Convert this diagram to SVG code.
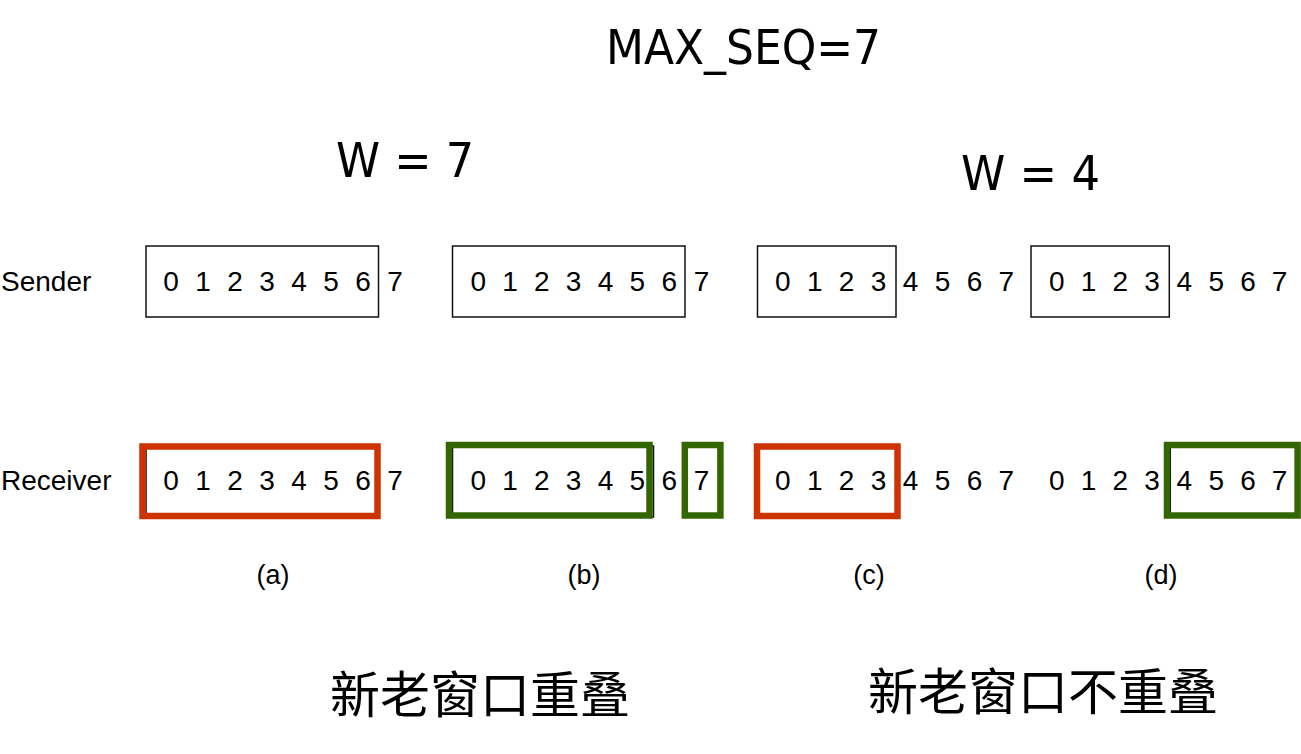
<svg xmlns="http://www.w3.org/2000/svg" width="1301" height="754" viewBox="0 0 1301 754">
<style>
.bg{fill:#ffffff}
.title{font-family:"DejaVu Sans","Liberation Sans",sans-serif;font-stretch:condensed;font-size:48px;fill:#000}
.lbl{font-family:"Liberation Sans",Arial,sans-serif;font-size:28px;fill:#000}
.dig{font-family:"Liberation Sans",Arial,sans-serif;font-size:28px;fill:#000;text-anchor:middle}
.cap{font-family:"Liberation Sans",Arial,sans-serif;font-size:27px;fill:#000;text-anchor:middle}
.cjk{font-family:"Noto Sans CJK SC","Noto Sans CJK TC",sans-serif;font-size:50px;fill:#000}
.box{fill:none;stroke:#111;stroke-width:1.5}
.red{fill:none;stroke:#CC3300;stroke-width:6.5}
.green{fill:none;stroke:#336600;stroke-width:6.5}
</style>
<rect class="bg" x="0" y="0" width="1301" height="754"/>

<g id="titles">
<text class="title" x="606" y="63.5" textLength="275" lengthAdjust="spacingAndGlyphs">MAX_SEQ=7</text>
<text class="title" x="336" y="177" textLength="138" lengthAdjust="spacingAndGlyphs">W = 7</text>
<text class="title" x="961" y="190" textLength="139" lengthAdjust="spacingAndGlyphs">W = 4</text>
</g>

<g id="row-labels">
<text class="lbl" x="1" y="291">Sender</text>
<text class="lbl" x="1" y="490">Receiver</text>
</g>

<g id="connectors"></g>

<g id="case-a">
<rect class="box" x="146" y="246" width="232.5" height="71"/>
<text class="dig" y="291"><tspan x="171">0</tspan><tspan x="203">1</tspan><tspan x="235">2</tspan><tspan x="267">3</tspan><tspan x="299">4</tspan><tspan x="331">5</tspan><tspan x="363">6</tspan><tspan x="395">7</tspan></text>
<rect class="box" x="146" y="446" width="232" height="71"/>
<rect class="red" x="142.5" y="446.5" width="235" height="69.5"/>
<text class="dig" y="489.5"><tspan x="171">0</tspan><tspan x="203">1</tspan><tspan x="235">2</tspan><tspan x="267">3</tspan><tspan x="299">4</tspan><tspan x="331">5</tspan><tspan x="363">6</tspan><tspan x="395">7</tspan></text>
<text class="cap" x="273" y="584">(a)</text>
</g>

<g id="case-b">
<rect class="box" x="452.5" y="246" width="232.5" height="71"/>
<text class="dig" y="291"><tspan x="478.3">0</tspan><tspan x="510">1</tspan><tspan x="541.8">2</tspan><tspan x="573.6">3</tspan><tspan x="605.6">4</tspan><tspan x="637.4">5</tspan><tspan x="669.2">6</tspan><tspan x="701.5">7</tspan></text>
<rect class="box" x="452.5" y="446" width="201" height="71"/>
<rect class="green" x="449" y="445" width="200.5" height="70.5"/>
<rect class="green" x="684.8" y="445" width="35.6" height="70.5"/>
<text class="dig" y="489.5"><tspan x="478.3">0</tspan><tspan x="510">1</tspan><tspan x="541.8">2</tspan><tspan x="573.6">3</tspan><tspan x="605.6">4</tspan><tspan x="637.4">5</tspan><tspan x="669.2">6</tspan><tspan x="701.5">7</tspan></text>
<text class="cap" x="584" y="584">(b)</text>
</g>

<g id="case-c">
<rect class="box" x="757.5" y="246" width="138.5" height="71"/>
<text class="dig" y="291"><tspan x="782.8">0</tspan><tspan x="814.7">1</tspan><tspan x="846.6">2</tspan><tspan x="878.5">3</tspan><tspan x="910.5">4</tspan><tspan x="942.5">5</tspan><tspan x="974.5">6</tspan><tspan x="1006.3">7</tspan></text>
<rect class="red" x="757" y="446.5" width="140.5" height="69.5"/>
<text class="dig" y="489.5"><tspan x="782.8">0</tspan><tspan x="814.7">1</tspan><tspan x="846.6">2</tspan><tspan x="878.5">3</tspan><tspan x="910.5">4</tspan><tspan x="942.5">5</tspan><tspan x="974.5">6</tspan><tspan x="1006.3">7</tspan></text>
<text class="cap" x="869" y="584">(c)</text>
</g>

<g id="case-d">
<rect class="box" x="1031" y="246" width="138.3" height="71"/>
<text class="dig" y="291"><tspan x="1056.7">0</tspan><tspan x="1088.5">1</tspan><tspan x="1120.3">2</tspan><tspan x="1152.1">3</tspan><tspan x="1184.4">4</tspan><tspan x="1216.2">5</tspan><tspan x="1248">6</tspan><tspan x="1279.5">7</tspan></text>
<line x1="1170.3" y1="447" x2="1170.3" y2="515" stroke="#111" stroke-width="1.5"/>
<rect class="green" x="1167" y="445" width="130.6" height="70.5"/>
<text class="dig" y="489.5"><tspan x="1056.7">0</tspan><tspan x="1088.5">1</tspan><tspan x="1120.3">2</tspan><tspan x="1152.1">3</tspan><tspan x="1184.4">4</tspan><tspan x="1216.2">5</tspan><tspan x="1248">6</tspan><tspan x="1279.5">7</tspan></text>
<text class="cap" x="1161" y="584">(d)</text>
</g>

<g id="captions">
<text class="cjk" x="330" y="713" textLength="300" lengthAdjust="spacingAndGlyphs">新老窗口重叠</text>
<text class="cjk" x="868" y="710" textLength="350" lengthAdjust="spacingAndGlyphs">新老窗口不重叠</text>
</g>
</svg>
